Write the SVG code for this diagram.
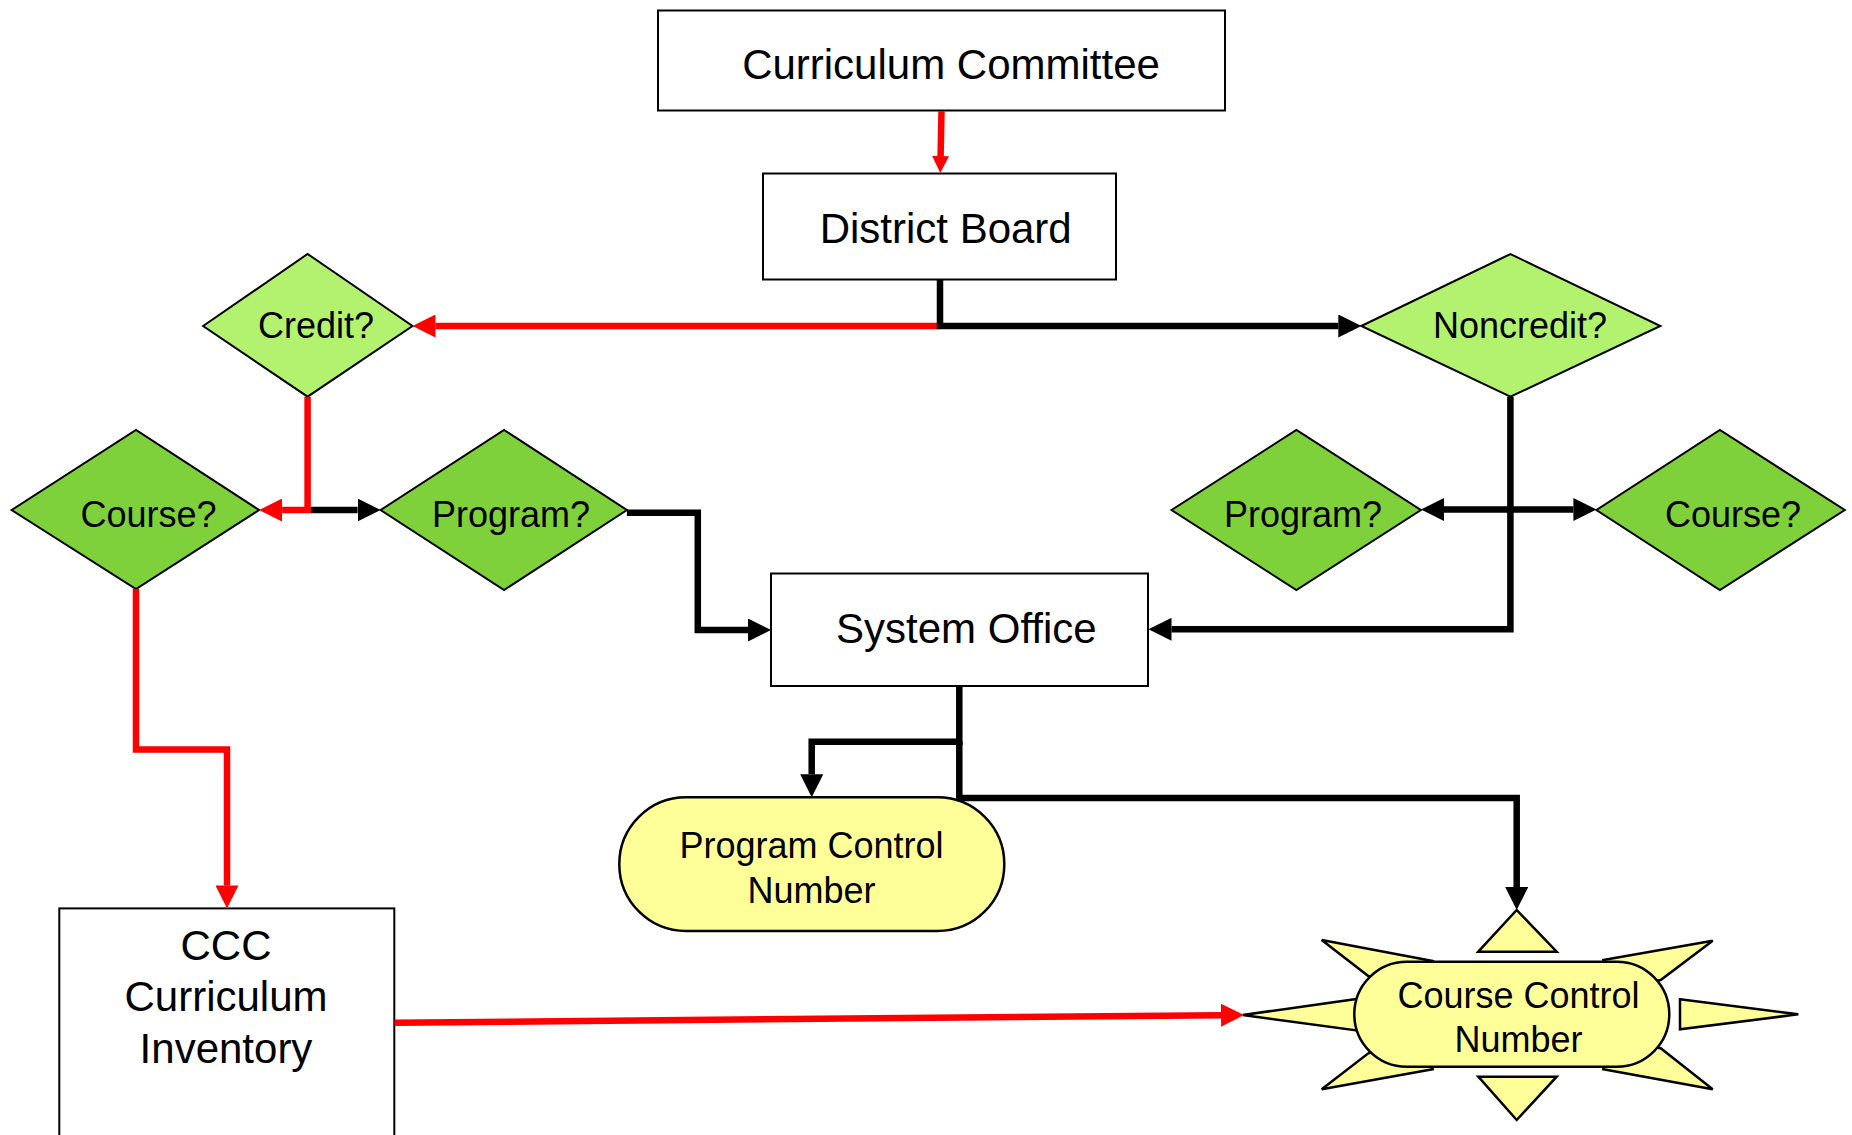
<svg xmlns="http://www.w3.org/2000/svg" width="1852" height="1135" viewBox="0 0 1852 1135">
<style>
.box{fill:#ffffff;stroke:#000;stroke-width:2}
.dl{fill:#b2f26e;stroke:#000;stroke-width:2}
.dd{fill:#7fd13b;stroke:#000;stroke-width:2}
.y{fill:#ffff99;stroke:#000;stroke-width:2.5;stroke-linejoin:miter}
.t42{font-family:"Liberation Sans",Arial,sans-serif;font-size:42px;fill:#000;text-anchor:middle}
.t36{font-family:"Liberation Sans",Arial,sans-serif;font-size:36px;fill:#000;text-anchor:middle}
.k{fill:none;stroke:#000;stroke-width:6.5;stroke-linejoin:miter;stroke-linecap:butt}
.r{fill:none;stroke:#ff0000;stroke-width:6.5;stroke-linejoin:miter;stroke-linecap:butt}
</style>
<defs>
<marker id="ak" markerUnits="userSpaceOnUse" markerWidth="23" markerHeight="23" viewBox="0 0 23 23" refX="0" refY="11.5" orient="auto-start-reverse"><path d="M0,0 L23,11.5 L0,23 Z" fill="#000"/></marker>
<marker id="ar" markerUnits="userSpaceOnUse" markerWidth="23" markerHeight="23" viewBox="0 0 23 23" refX="0" refY="11.5" orient="auto"><path d="M0,0 L23,11.5 L0,23 Z" fill="#ff0000"/></marker>
<marker id="ars" markerUnits="userSpaceOnUse" markerWidth="17" markerHeight="17" viewBox="0 0 17 17" refX="0" refY="8.5" orient="auto"><path d="M0,0 L17,8.5 L0,17 Z" fill="#ff0000"/></marker>
</defs>

<g id="curriculum-committee">
<rect class="box" x="658" y="10.5" width="567" height="100"/>
<text class="t42" x="951" y="79">Curriculum Committee</text>
</g>
<g id="district-board">
<rect class="box" x="763" y="173.5" width="353" height="106"/>
<text class="t42" x="945.7" y="242.7">District Board</text>
</g>
<g id="credit">
<polygon class="dl" points="203.1,326 307.6,254 412.5,326 307.6,396.7"/>
<text class="t36" x="316" y="338.3">Credit?</text>
</g>
<g id="noncredit">
<polygon class="dl" points="1361.3,326 1510.4,254 1660.4,326 1510.4,396.7"/>
<text class="t36" x="1520" y="338.3">Noncredit?</text>
</g>
<g id="course-credit">
<polygon class="dd" points="11.6,510 136,430 259.1,510 136,589"/>
<text class="t36" x="148.6" y="527.3">Course?</text>
</g>
<g id="program-credit">
<polygon class="dd" points="380.6,510 504.1,430 626.9,510 504.1,590"/>
<text class="t36" x="511" y="527.3">Program?</text>
</g>
<g id="program-noncredit">
<polygon class="dd" points="1171.5,510 1296.4,430 1420.9,510 1296.4,590"/>
<text class="t36" x="1303" y="527.3">Program?</text>
</g>
<g id="course-noncredit">
<polygon class="dd" points="1596.4,510 1719.9,430 1844.8,510 1719.9,590"/>
<text class="t36" x="1733" y="527.3">Course?</text>
</g>
<g id="system-office">
<rect class="box" x="771" y="573.5" width="377" height="112.5"/>
<text class="t42" x="966.4" y="643.3">System Office</text>
</g>
<g id="program-control-number">
<rect class="y" x="619.3" y="797.3" width="385" height="133.7" rx="66.8" ry="66.8"/>
<text class="t36" x="811.5" y="858.3">Program Control</text>
<text class="t36" x="811.5" y="903.3">Number</text>
</g>
<g id="ccc-curriculum-inventory">
<rect class="box" x="59.3" y="908.4" width="335" height="260"/>
<text class="t42" x="226" y="960.4">CCC</text>
<text class="t42" x="226" y="1011">Curriculum</text>
<text class="t42" x="226" y="1063">Inventory</text>
</g>
<g id="course-control-number">
<polygon class="y" points="1478.3,951.7 1516.7,910 1556.7,951.7"/>
<polygon class="y" points="1478.3,1076.7 1516.7,1120 1556.7,1076.7"/>
<polygon class="y" points="1680,999.3 1798.3,1014.3 1680,1029.3"/>
<polygon class="y" points="1242.7,1015 1390,994.2 1390,1034.9"/>
<polygon class="y" points="1321.7,940 1432.7,961 1425,990 1368.3,976"/>
<polygon class="y" points="1712.7,940.7 1603.3,960 1610,990 1660.7,980"/>
<polygon class="y" points="1321.7,1089.3 1432.7,1069.3 1425,1040 1368.3,1053.3"/>
<polygon class="y" points="1712.7,1089.3 1603.3,1069.3 1610,1040 1660.7,1048.3"/>
<rect class="y" x="1354.3" y="961.7" width="315" height="105" rx="52.5" ry="52.5"/>
<text class="t36" x="1518.5" y="1007.5">Course Control</text>
<text class="t36" x="1518.5" y="1052.3">Number</text>
</g>

<g id="connectors">
<path class="r" d="M940,326 H435.5" marker-end="url(#ar)"/>
<path class="k" d="M940,279 V326 H1338.3" marker-end="url(#ak)"/>
<path class="r" d="M941.5,111 L940.6,156" marker-end="url(#ars)"/>
<path class="k" d="M310.5,510 H357.6" marker-end="url(#ak)"/>
<path class="r" d="M307.6,396.7 V510 H282.1" marker-end="url(#ar)"/>
<path class="k" d="M626.9,512.7 H697.8 V630 H748" marker-end="url(#ak)"/>
<path class="k" d="M1444,509.5 H1573.4" marker-start="url(#ak)" marker-end="url(#ak)"/>
<path class="k" d="M1510.4,396.7 V629.3 H1171.5" marker-end="url(#ak)"/>
<path class="k" d="M959.3,686 V741.7 H811.7 V774.3" marker-end="url(#ak)"/>
<path class="k" d="M959.3,741 V798 H1516.7 V887" marker-end="url(#ak)"/>
<path class="r" d="M136,589 V749.6 H227 V885.4" marker-end="url(#ar)"/>
<path class="r" d="M394.4,1022.7 L1221,1015.2" marker-end="url(#ar)"/>
</g>
</svg>
